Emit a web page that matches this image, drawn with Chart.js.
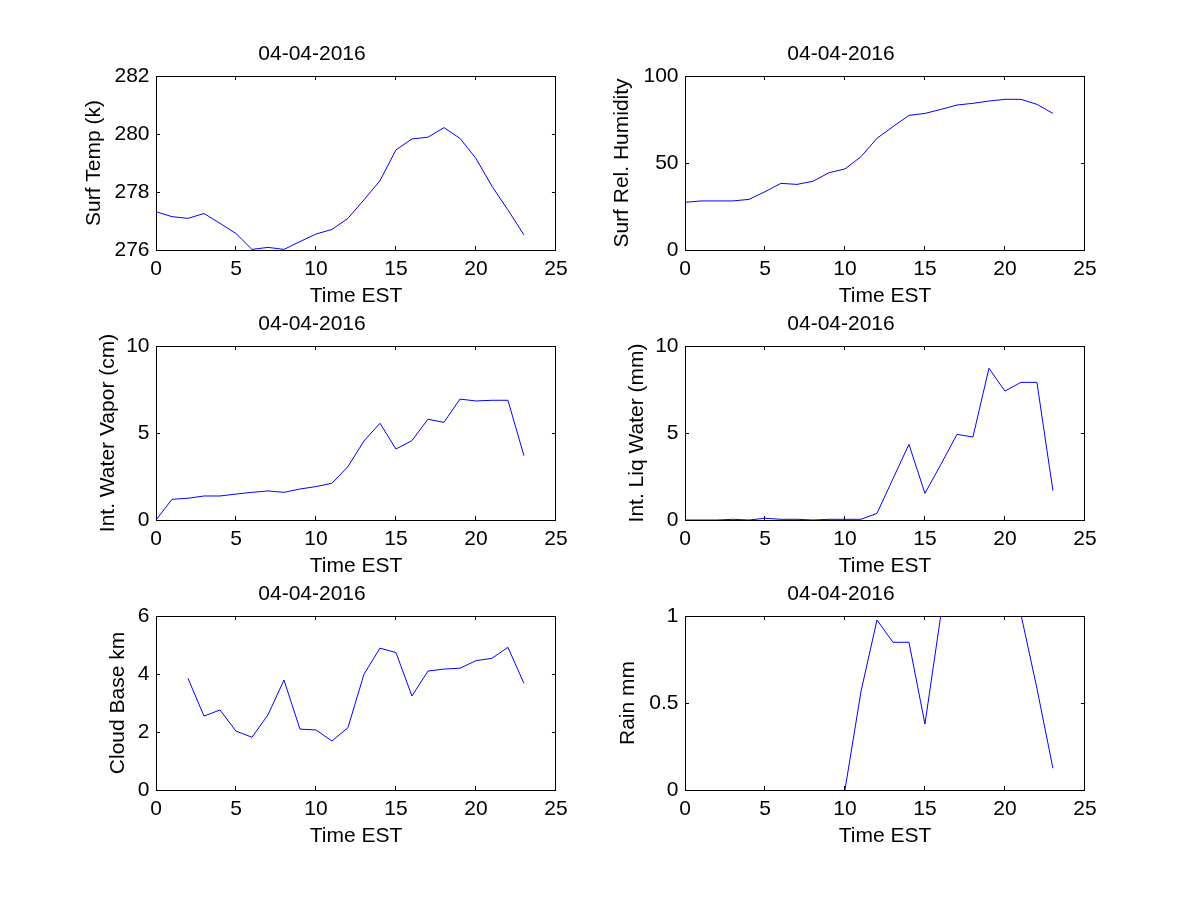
<!DOCTYPE html>
<html>
<head>
<meta charset="utf-8">
<title>04-04-2016</title>
<script src="https://cdn.jsdelivr.net/npm/chart.js@4.4.1/dist/chart.umd.min.js"></script>
<style>
  html, body { margin: 0; padding: 0; background: #fff; }
  #page { position: relative; width: 1200px; height: 900px; overflow: hidden; background: #fff; }
  #page canvas { position: absolute; }
</style>
</head>
<body>
<div id="page"></div>
<script>
// 観測データ (時刻は EST)
const hours = [0, 1, 2, 3, 4, 5, 6, 7, 8, 9, 10, 11, 12, 13, 14, 15, 16, 17, 18, 19, 20, 21, 22, 23];
const surfTemp = [277.32, 277.15, 277.09, 277.26, 276.92, 276.57, 276.02, 276.09, 276.02, 276.29, 276.55, 276.71,
                  277.09, 277.73, 278.39, 279.45, 279.83, 279.89, 280.22, 279.85, 279.16, 278.2, 277.38, 276.52];
const relHumidity = [27.4, 28.2, 28.2, 28.2, 29.1, 33.5, 38.3, 37.7, 39.5, 44.4, 46.6, 53.6,
                     64.2, 70.9, 77.4, 78.5, 80.8, 83.3, 84.3, 85.6, 86.6, 86.6, 83.7, 78.5];
const waterVapor = [0, 1.19, 1.25, 1.38, 1.38, 1.49, 1.59, 1.67, 1.59, 1.78, 1.92, 2.11,
                    3.07, 4.54, 5.56, 4.08, 4.56, 5.79, 5.61, 6.95, 6.84, 6.88, 6.88, 3.70];
const liqWater = [0, 0, 0, 0.04, 0, 0.1, 0.04, 0.04, 0, 0.04, 0.04, 0.04,
                  0.38, 2.37, 4.35, 1.53, 3.2, 4.92, 4.77, 8.72, 7.41, 7.91, 7.91, 1.69];
const cloudBase = [null, null, 3.85, 2.55, 2.76, 2.03, 1.82, 2.59, 3.79, 2.10, 2.07, 1.69,
                   2.15, 3.99, 4.89, 4.74, 3.24, 4.10, 4.17, 4.20, 4.46, 4.54, 4.92, 3.68];
const rain = [null, null, null, null, null, null, null, null, null, null, 0, 0.565,
              0.977, 0.849, 0.849, 0.379, 1.01, 1.4, 1.3, 2.0, 1.6, 1.01, 0.584, 0.125];

const dateLabel = '04-04-2016';
const xLabel = 'Time EST';
const xRange = [0, 25];
const xStep = 5;

// パネル構成 (値・軸ラベル・軸範囲)
const panelSeries = [surfTemp, relHumidity, waterVapor, liqWater, cloudBase, rain];
const panelYLabels = ['Surf Temp (k)', 'Surf Rel. Humidity', 'Int. Water Vapor (cm)', 'Int. Liq Water (mm)', 'Cloud Base km', 'Rain mm'];
const panelYRanges = [[276, 282], [0, 100], [0, 10], [0, 10], [0, 6], [0, 1]];
const panelYSteps = [2, 50, 5, 5, 2, 0.5];

// レイアウト (プロット枠の位置)
const colLeft = [156, 685];
const rowTop = [76, 346, 616];
const BOX_W = 402;
const BOX_H = 174;
const AXIS_W = 90;
const AXIS_H = 60;
const TITLE_H = 50;
const PAD_R = 20;
const TICK_LEN = -4; // MATLAB風の内向き目盛り
const yTitleGap = [62, 63, 48, 48, 38, 57];

const FONT = { family: '"Liberation Sans", Arial, Helvetica, sans-serif', size: 21, weight: 'normal' };
Chart.defaults.font.family = FONT.family;
Chart.defaults.font.size = FONT.size;
Chart.defaults.color = '#000';

const page = document.getElementById('page');

function tickGrid() {
    return {
        display: true,
        drawOnChartArea: false,
        drawTicks: true,
        tickLength: TICK_LEN,
        color: '#000',
        lineWidth: 1
    };
}

// 0.5 / 1 のように末尾の0を付けない
function plainTick(value) {
    return String(Math.round(value * 1000) / 1000);
}

function makePanel(i) {
    const col = i % 2;
    const row = Math.floor(i / 2);
    const canvas = document.createElement('canvas');
    const w = AXIS_W + BOX_W + PAD_R;
    const h = TITLE_H + BOX_H + AXIS_H;
    canvas.width = w;
    canvas.height = h;
    canvas.style.width = w + 'px';
    canvas.style.height = h + 'px';
    canvas.style.left = (colLeft[col] - AXIS_W) + 'px';
    canvas.style.top = (rowTop[row] - TITLE_H) + 'px';
    page.appendChild(canvas);

    const values = panelSeries[i];
    const [yMin, yMax] = panelYRanges[i];
    const yStep = panelYSteps[i];
    const border = { display: true, color: '#000', width: 1 };

    new Chart(canvas, {
        type: 'line',
        data: {
            datasets: [{
                data: hours.map((hr, k) => ({ x: hr, y: values[k] })),
                borderColor: '#0000ff',
                borderWidth: 1,
                pointRadius: 0,
                tension: 0,
                fill: false,
                spanGaps: false
            }]
        },
        options: {
            responsive: false,
            animation: false,
            devicePixelRatio: 1,
            layout: { padding: { left: 0, right: PAD_R, top: 0, bottom: 0 } },
            plugins: {
                legend: { display: false },
                tooltip: { enabled: false },
                title: {
                    display: true,
                    text: dateLabel,
                    color: '#000',
                    font: FONT,
                    padding: { top: 15.4, bottom: TITLE_H - 15.4 - FONT.size * 1.2 }
                }
            },
            scales: {
                x: {
                    type: 'linear', position: 'bottom', min: xRange[0], max: xRange[1],
                    ticks: { stepSize: xStep, padding: 10.4, color: '#000', font: FONT, maxRotation: 0, callback: plainTick },
                    grid: tickGrid(), border: border,
                    title: { display: true, text: xLabel, color: '#000', font: FONT, padding: { top: 0, bottom: 1.4 } },
                    afterFit: (s) => { s.height = AXIS_H; }
                },
                x2: {
                    type: 'linear', position: 'top', min: xRange[0], max: xRange[1],
                    ticks: { stepSize: xStep, display: false },
                    grid: tickGrid(), border: border,
                    afterFit: (s) => { s.height = 0; }
                },
                y: {
                    type: 'linear', position: 'left', min: yMin, max: yMax,
                    ticks: { stepSize: yStep, padding: 10.5, color: '#000', font: FONT, callback: plainTick },
                    grid: tickGrid(), border: border,
                    title: {
                        display: true, text: panelYLabels[i], color: '#000', font: FONT,
                        padding: { top: AXIS_W - FONT.size * 0.6 - yTitleGap[i], bottom: 0 }
                    },
                    afterFit: (s) => { s.width = AXIS_W; }
                },
                y2: {
                    type: 'linear', position: 'right', min: yMin, max: yMax,
                    ticks: { stepSize: yStep, display: false },
                    grid: tickGrid(), border: border,
                    afterFit: (s) => { s.width = 0; }
                }
            }
        }
    });
}

for (let i = 0; i < panelSeries.length; i++) {
    makePanel(i);
}
</script>
</body>
</html>
